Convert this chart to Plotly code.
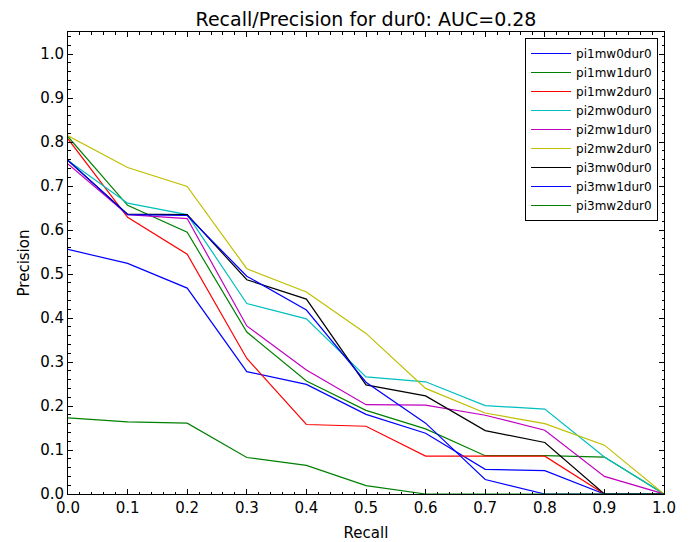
import plotly.graph_objects as go

recall = [0.0, 0.1, 0.2, 0.3, 0.4, 0.5, 0.6, 0.7, 0.8, 0.9, 1.0]

names = ["pi1mw0dur0", "pi1mw1dur0", "pi1mw2dur0", "pi2mw0dur0", "pi2mw1dur0",
         "pi2mw2dur0", "pi3mw0dur0", "pi3mw1dur0", "pi3mw2dur0"]

pi1mw0dur0 = [0.556, 0.524, 0.468, 0.278, 0.249, 0.181, 0.138, 0.056, 0.053, 0.0, 0.0]
pi1mw1dur0 = [0.812, 0.656, 0.595, 0.368, 0.257, 0.190, 0.148, 0.087, 0.087, 0.084, 0.0]
pi1mw2dur0 = [0.807, 0.629, 0.545, 0.308, 0.158, 0.154, 0.086, 0.086, 0.086, 0.0, 0.0]
pi2mw0dur0 = [0.758, 0.661, 0.635, 0.433, 0.398, 0.266, 0.255, 0.201, 0.193, 0.084, 0.0]
pi2mw1dur0 = [0.750, 0.635, 0.626, 0.382, 0.282, 0.203, 0.202, 0.179, 0.145, 0.040, 0.0]
pi2mw2dur0 = [0.814, 0.742, 0.699, 0.512, 0.459, 0.365, 0.240, 0.184, 0.160, 0.111, 0.0]
pi3mw0dur0 = [0.758, 0.636, 0.635, 0.487, 0.443, 0.248, 0.223, 0.144, 0.117, 0.0, 0.0]
pi3mw1dur0 = [0.758, 0.635, 0.633, 0.495, 0.418, 0.254, 0.161, 0.033, 0.0, 0.0, 0.0]
pi3mw2dur0 = [0.173, 0.164, 0.161, 0.083, 0.065, 0.019, 0.0, 0.0, 0.0, 0.0, 0.0]

series = [pi1mw0dur0, pi1mw1dur0, pi1mw2dur0, pi2mw0dur0, pi2mw1dur0,
          pi2mw2dur0, pi3mw0dur0, pi3mw1dur0, pi3mw2dur0]
colors = ["#0000ff", "#008000", "#ff0000", "#00bfbf", "#bf00bf",
          "#bfbf00", "#000000", "#0000ff", "#008000"]

fig = go.Figure()
for name, vals, col in zip(names, series, colors):
    fig.add_trace(go.Scatter(x=recall, y=vals, mode="lines", name=name,
                             line=dict(color=col, width=1.2)))

FONT = "DejaVu Sans"
axis_common = dict(
    showgrid=False, zeroline=False, showline=True, linecolor="black", linewidth=1,
    mirror="allticks", ticks="inside", ticklen=5, tickcolor="black",
    tickfont=dict(family=FONT, size=15, color="black"),
    minor=dict(dtick=0.02, ticks="inside", ticklen=2.5, tickcolor="black"),
    automargin=False,
)

fig.update_xaxes(range=[0, 1.0], dtick=0.1, tickformat=".1f",
                 title=dict(text="Recall", font=dict(family=FONT, size=15, color="black"), standoff=11),
                 **axis_common)
fig.update_yaxes(range=[0, 1.05], dtick=0.1, tickformat=".1f",
                 title=dict(text="Precision", font=dict(family=FONT, size=15, color="black"), standoff=6),
                 **axis_common)

fig.update_layout(
    width=693, height=542,
    margin=dict(l=68, r=29, t=32, b=48),
    plot_bgcolor="white", paper_bgcolor="white",
    title=dict(text="Recall/Precision for dur0: AUC=0.28", x=0.5, xref="paper",
               y=1 - 19 / 542, yanchor="middle", yref="container",
               font=dict(family=FONT, size=19, color="black")),
    legend=dict(x=0.99, xanchor="right", y=0.987, yanchor="top",
                bordercolor="black", borderwidth=1, bgcolor="white",
                font=dict(family=FONT, size=12, color="black"),
                itemwidth=40, tracegroupgap=0),
    showlegend=True,
)

fig.write_html("out.html", config={"displayModeBar": False},
               post_script="document.body.style.margin='0';")
